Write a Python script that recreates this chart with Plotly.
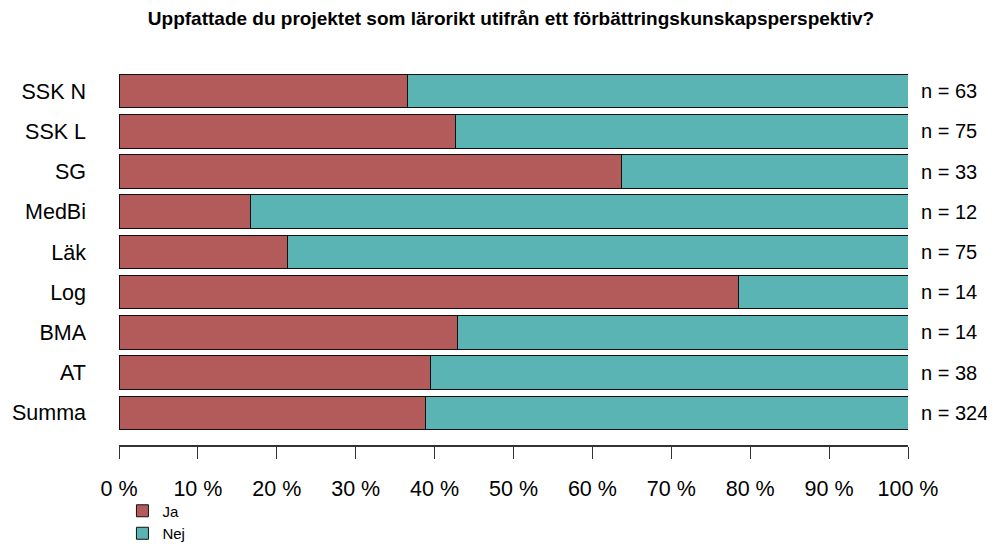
import plotly.graph_objects as go

# data, top row first
groups = ["SSK N", "SSK L", "SG", "MedBi", "Läk", "Log", "BMA", "AT", "Summa"]
n_total = [63, 75, 33, 12, 75, 14, 14, 38, 324]
n_ja = [23, 32, 21, 2, 16, 11, 6, 15, 126]
tick_vals = [0, 10, 20, 30, 40, 50, 60, 70, 80, 90, 100]
tick_text = ["0 %", "10 %", "20 %", "30 %", "40 %", "50 %", "60 %", "70 %", "80 %", "90 %", "100 %"]

title = "Uppfattade du projektet som lärorikt utifrån ett förbättringskunskapsperspektiv?"

ja_pct = [100 * j / n for j, n in zip(n_ja, n_total)]
nej_pct = [100 - p for p in ja_pct]

FONT = "Liberation Sans, Arial, sans-serif"

fig = go.Figure()
fig.add_trace(
    go.Bar(
        y=groups, x=ja_pct, name="Ja", orientation="h",
        marker=dict(color="#B35A5A", line=dict(color="#111111", width=1)),
    )
)
fig.add_trace(
    go.Bar(
        y=groups, x=nej_pct, name="Nej", orientation="h",
        marker=dict(color="#5BB4B4", line=dict(color="#111111", width=1)),
    )
)

# n labels on the right
for g, n in zip(groups, n_total):
    fig.add_annotation(
        x=1, xref="paper", y=g, yref="y", text="n = %d" % n,
        showarrow=False, xanchor="left", xshift=11,
        font=dict(family=FONT, size=20, color="black"),
    )

# the page body has an 8px margin all round, so the figure is 16px smaller
fig.update_layout(
    width=979, height=537,
    barmode="stack", bargap=0.165,
    plot_bgcolor="white", paper_bgcolor="white",
    margin=dict(l=111, r=79, t=63, b=100, autoexpand=False),
    font=dict(family=FONT, size=21.5, color="black"),
    title=dict(
        text="<b>" + title + "</b>", x=0.5138, xanchor="center",
        y=0.9814, yanchor="middle", font=dict(size=19),
    ),
    legend=dict(
        xref="container", yref="container",
        x=0.1169, y=0.094, xanchor="left", yanchor="top",
        font=dict(size=15), itemwidth=30, tracegroupgap=0,
        traceorder="normal", bgcolor="rgba(0,0,0,0)",
    ),
    showlegend=True,
)
fig.update_xaxes(
    range=[0, 100], tickvals=tick_vals, ticktext=tick_text, automargin=False,
    showgrid=False, zeroline=False, showline=True, linecolor="#333333", linewidth=2,
    ticks="outside", ticklen=12, tickcolor="#333333", tickwidth=1,
    ticklabelstandoff=11, fixedrange=True,
)
fig.update_yaxes(
    categoryorder="array", categoryarray=groups[::-1], automargin=False,
    range=[-0.8, 8.5], showgrid=False, zeroline=False, showline=False,
    ticks="", ticklabelstandoff=32,
)

fig.write_html("out.html")
